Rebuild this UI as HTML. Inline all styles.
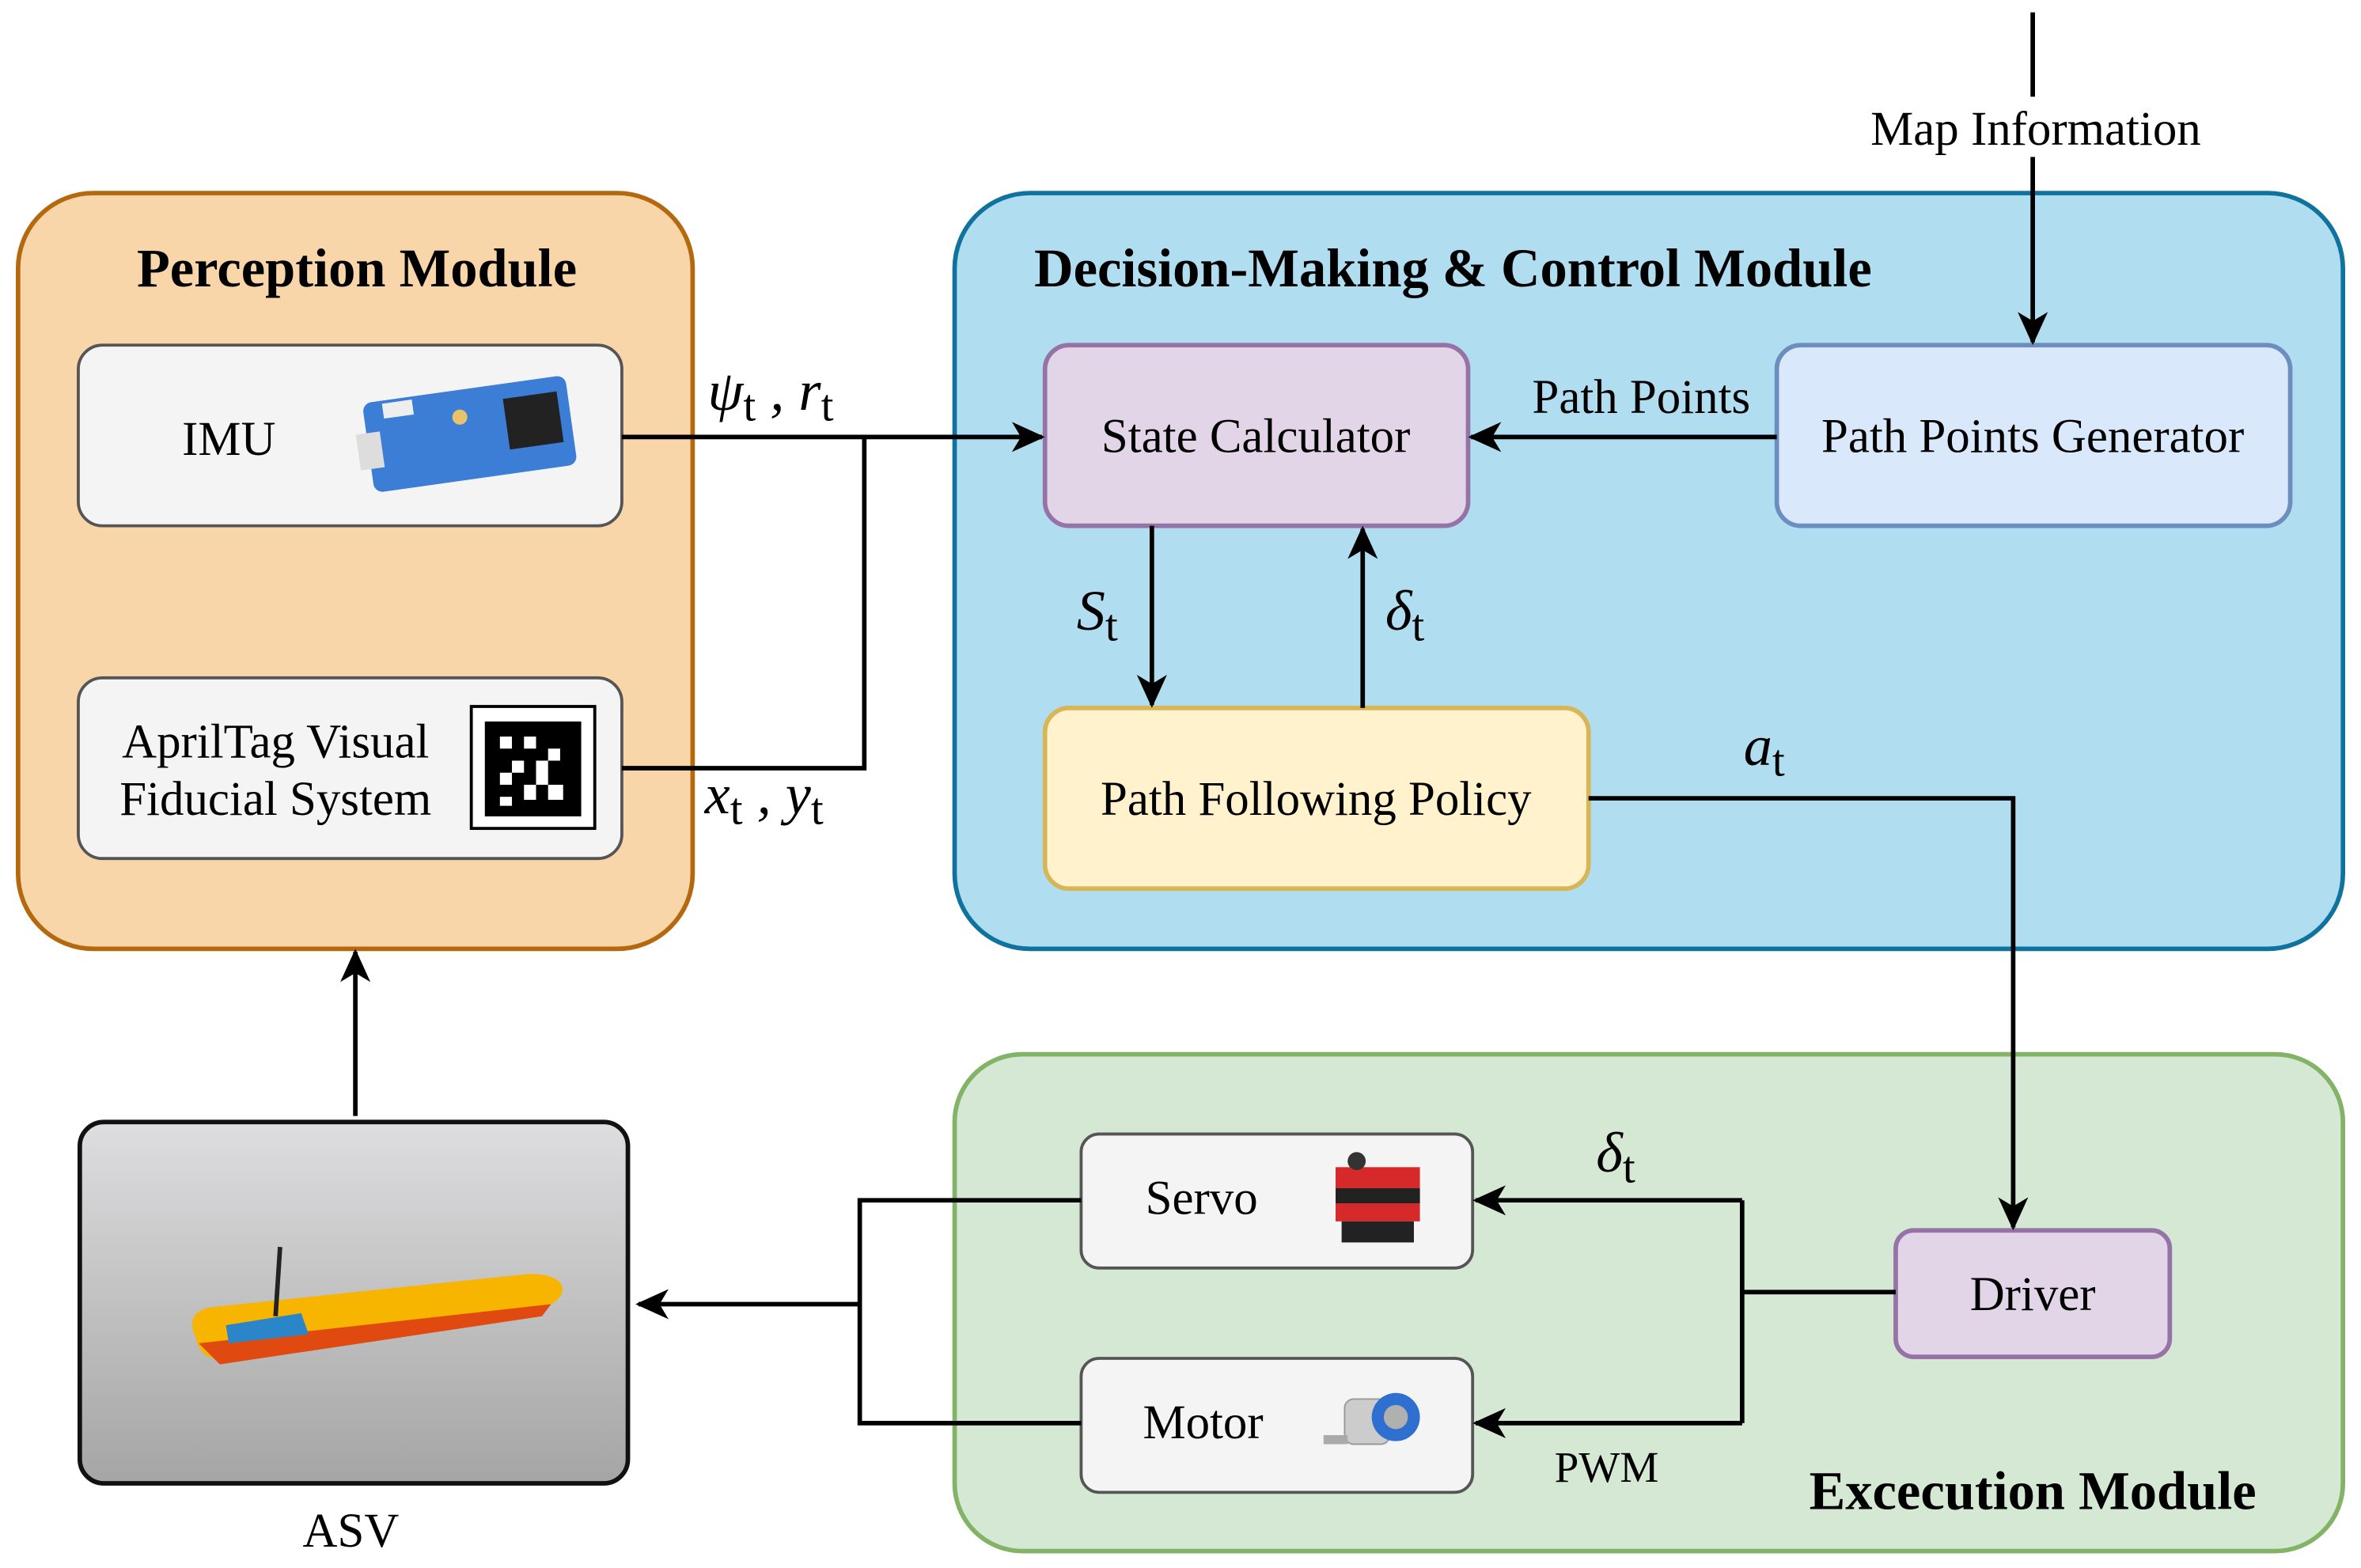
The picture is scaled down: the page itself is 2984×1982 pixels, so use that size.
<!DOCTYPE html>
<html><head><meta charset="utf-8"><style>
html,body{margin:0;padding:0;background:#fff;}
svg{display:block;}
text{font-family:"Liberation Serif","Times New Roman",serif;fill:#000;}
</style></head><body>
<svg width="2984" height="1982" viewBox="0 0 1568 1041" xmlns="http://www.w3.org/2000/svg">
<defs>
<marker id="a2" markerWidth="24" markerHeight="24" refX="20" refY="12" orient="auto" markerUnits="userSpaceOnUse">
<path d="M0,2 L22,12 L0,22 L6,12 Z" fill="#000"/>
</marker>
<linearGradient id="water" x1="0" y1="0" x2="0" y2="1">
<stop offset="0" stop-color="#dedddf"/><stop offset="1" stop-color="#a5a5a5"/>
</linearGradient>
</defs>

<rect x="12" y="128" width="448" height="502" rx="50" fill="#f9d6aa" stroke="#b5690f" stroke-width="3"/>
<rect x="634" y="128" width="922" height="502" rx="50" fill="#b1ddf0" stroke="#10739e" stroke-width="3"/>
<rect x="634" y="700" width="922" height="330" rx="45" fill="#d5e8d4" stroke="#82b366" stroke-width="3"/>

<text x="237" y="190" font-size="36" font-weight="bold" text-anchor="middle">Perception Module</text>
<text x="965" y="190" font-size="36" font-weight="bold" text-anchor="middle">Decision-Making &amp; Control Module</text>
<text x="1350" y="1002" font-size="36" font-weight="bold" text-anchor="middle">Excecution Module</text>

<rect x="52" y="229" width="361" height="120" rx="16" fill="#f4f4f4" stroke="#555" stroke-width="2"/>
<text x="152" y="302" font-size="32" text-anchor="middle">IMU</text>
<g transform="translate(312,288) rotate(-8)">
<rect x="-68" y="-30" width="136" height="60" rx="6" fill="#3c7dd6"/>
<rect x="25" y="-20" width="36" height="34" fill="#222"/>
<rect x="-75" y="-10" width="16" height="24" fill="#ddd"/>
<rect x="-55" y="-28" width="20" height="10" fill="#eee"/>
<circle cx="-5" cy="-12" r="5" fill="#e8c36a"/>
</g>
<rect x="52" y="450" width="361" height="120" rx="16" fill="#f4f4f4" stroke="#555" stroke-width="2"/>
<text x="183" y="503" font-size="32" text-anchor="middle">AprilTag Visual</text>
<text x="183" y="541" font-size="32" text-anchor="middle">Fiducial System</text>
<rect x="313" y="469" width="82" height="81" fill="#fff" stroke="#000" stroke-width="2"/>
<rect x="322" y="479" width="64" height="63" fill="#000"/>
<g fill="#fff">
<rect x="332" y="489" width="8" height="8"/><rect x="348" y="489" width="8" height="8"/><rect x="364" y="497" width="8" height="8"/>
<rect x="340" y="505" width="8" height="8"/><rect x="356" y="505" width="8" height="16"/><rect x="332" y="513" width="8" height="8"/>
<rect x="348" y="521" width="8" height="10"/><rect x="364" y="521" width="10" height="10"/><rect x="332" y="529" width="8" height="6"/>
</g>

<rect x="694" y="229" width="281" height="120" rx="16" fill="#e1d5e7" stroke="#9673a6" stroke-width="3"/>
<text x="834" y="300" font-size="32" text-anchor="middle">State Calculator</text>
<rect x="1180" y="229" width="341" height="120" rx="16" fill="#dae8fc" stroke="#6c8ebf" stroke-width="3"/>
<text x="1350" y="300" font-size="32" text-anchor="middle">Path Points Generator</text>
<rect x="694" y="470" width="361" height="120" rx="16" fill="#fff2cc" stroke="#d6b656" stroke-width="3"/>
<text x="874" y="541" font-size="32" text-anchor="middle">Path Following Policy</text>

<rect x="718" y="753" width="260" height="89" rx="12" fill="#f4f4f4" stroke="#555" stroke-width="2"/>
<text x="798" y="806" font-size="32" text-anchor="middle">Servo</text>
<g transform="translate(915,797)">
<rect x="-28" y="-22" width="56" height="36" fill="#d62a2a"/>
<rect x="-28" y="-8" width="56" height="10" fill="#222"/>
<rect x="-24" y="14" width="48" height="14" fill="#222"/>
<circle cx="-14" cy="-26" r="6" fill="#333"/>
</g>
<rect x="718" y="902" width="260" height="89" rx="12" fill="#f4f4f4" stroke="#555" stroke-width="2"/>
<text x="799" y="955" font-size="32" text-anchor="middle">Motor</text>
<g transform="translate(915,945)">
<rect x="-22" y="-16" width="30" height="30" rx="6" fill="#ccc" stroke="#999"/>
<circle cx="12" cy="-4" r="16" fill="#2f6fcf"/>
<circle cx="12" cy="-4" r="8" fill="#b0b0b0"/>
<rect x="-36" y="8" width="16" height="6" fill="#aaa"/>
</g>
<rect x="1259" y="817" width="182" height="84" rx="12" fill="#e1d5e7" stroke="#9673a6" stroke-width="3"/>
<text x="1350" y="870" font-size="32" text-anchor="middle">Driver</text>

<rect x="53" y="745" width="364" height="240" rx="16" fill="url(#water)" stroke="#111" stroke-width="3"/>
<path d="M130,888 C125,878 128,870 140,868 L350,846 C378,845 378,860 366,866 L150,902 C138,904 132,898 130,888 Z" fill="#f7b500"/>
<path d="M132,892 L366,866 L360,874 L146,906 Z" fill="#e04a10"/>
<path d="M150,880 L200,872 L205,886 L152,892 Z" fill="#2b86c9"/>
<line x1="186" y1="828" x2="183" y2="874" stroke="#222" stroke-width="3"/>
<text x="233" y="1027" font-size="32" text-anchor="middle">ASV</text>

<g stroke="#000" stroke-width="3" fill="none">
<line x1="413" y1="290" x2="692" y2="290" marker-end="url(#a2)"/>
<polyline points="413,510 574,510 574,290"/>
<line x1="1350" y1="8" x2="1350" y2="64"/>
<line x1="1350" y1="104" x2="1350" y2="227" marker-end="url(#a2)"/>
<line x1="1180" y1="290" x2="977" y2="290" marker-end="url(#a2)"/>
<line x1="765" y1="349" x2="765" y2="468" marker-end="url(#a2)"/>
<line x1="905" y1="470" x2="905" y2="351" marker-end="url(#a2)"/>
<polyline points="1055,530 1337,530 1337,815" marker-end="url(#a2)"/>
<polyline points="1259,858 1157,858"/>
<polyline points="1157,797 1157,945"/>
<line x1="1157" y1="797" x2="980" y2="797" marker-end="url(#a2)"/>
<line x1="1157" y1="945" x2="980" y2="945" marker-end="url(#a2)"/>
<polyline points="718,797 571,797 571,945 718,945"/>
<line x1="571" y1="866" x2="424" y2="866" marker-end="url(#a2)"/>
<line x1="236" y1="741" x2="236" y2="632" marker-end="url(#a2)"/>
</g>

<text x="1352" y="96" font-size="32" text-anchor="middle">Map Information</text>
<text x="1090" y="274" font-size="32" text-anchor="middle">Path Points</text>
<text x="470" y="272" font-size="38" font-style="italic">ψ<tspan font-size="30" font-style="normal" dy="7">t</tspan><tspan dy="-7"> , r</tspan><tspan font-size="30" font-style="normal" dy="7">t</tspan></text>
<text x="468" y="540" font-size="38" font-style="italic">x<tspan font-size="30" font-style="normal" dy="7">t</tspan><tspan dy="-7"> , y</tspan><tspan font-size="30" font-style="normal" dy="7">t</tspan></text>
<text x="715" y="418" font-size="38" font-style="italic">S<tspan font-size="30" font-style="normal" dy="7">t</tspan></text>
<text x="920" y="418" font-size="38" font-style="italic">δ<tspan font-size="30" font-style="normal" dy="7">t</tspan></text>
<text x="1158" y="508" font-size="38" font-style="italic">a<tspan font-size="30" font-style="normal" dy="7">t</tspan></text>
<text x="1060" y="778" font-size="38" font-style="italic">δ<tspan font-size="30" font-style="normal" dy="7">t</tspan></text>
<text x="1067" y="984" font-size="29" text-anchor="middle">PWM</text>
</svg>
</body></html>
